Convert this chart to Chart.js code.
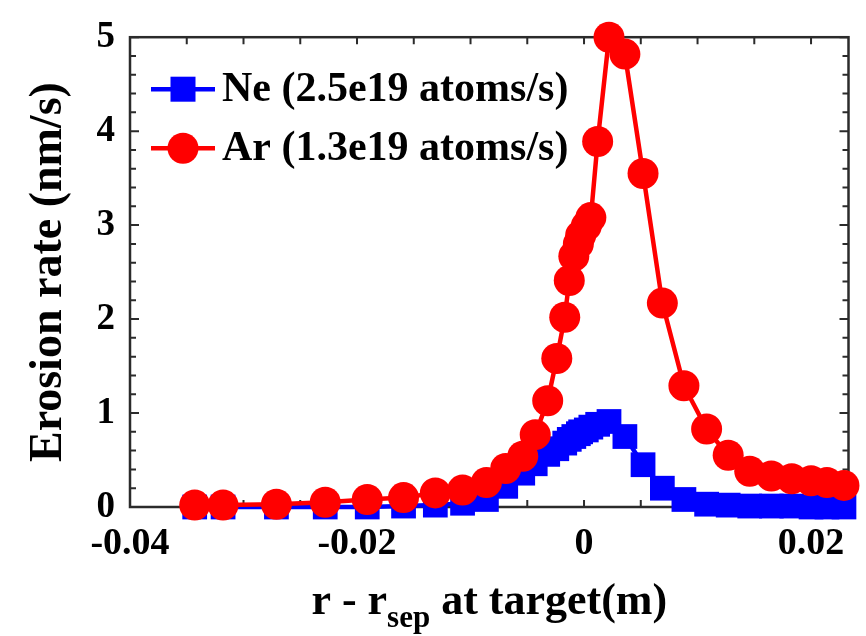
<!DOCTYPE html>
<html>
<head>
<meta charset="utf-8">
<script src="https://cdn.jsdelivr.net/npm/chart.js@4.4.1/dist/chart.umd.min.js"></script>
<style>
  html, body { margin: 0; padding: 0; background: #fff; }
  #wrap { width: 866px; height: 636px; }
</style>
</head>
<body>
<div id="wrap"><canvas id="erosion" width="866" height="636"></canvas></div>
<script>
// r - r_sep at target (m), same grid for both runs
let rSep = [
  -0.0343, -0.0318, -0.0271, -0.0228, -0.0191, -0.0159, -0.0131, -0.0107,
  -0.0086, -0.0069, -0.0054, -0.0043, -0.0032, -0.0024, -0.0017, -0.0013,
  -0.0009, -0.0005, -0.0003, 0.0002, 0.0006, 0.0012, 0.0022, 0.0036,
  0.0052, 0.0069, 0.0088, 0.0108, 0.0127, 0.0146, 0.0165, 0.0183,
  0.02, 0.0214, 0.0229,
];
// erosion rate (nm/s)
let neRate = [
  0.0, 0.0, 0.0, 0.0, 0.0, 0.01, 0.02, 0.04,
  0.08, 0.22, 0.36, 0.46, 0.56, 0.62, 0.68, 0.72,
  0.75, 0.78, 0.8, 0.82, 0.85, 0.88, 0.91, 0.75,
  0.45, 0.2, 0.08, 0.03, 0.02, 0.01, 0.01, 0.01,
  0.0, 0.0, 0.0,
];
let arRate = [
  0.02, 0.02, 0.03, 0.05, 0.08, 0.1, 0.15, 0.18,
  0.26, 0.41, 0.54, 0.77, 1.13, 1.58, 2.02, 2.41,
  2.67, 2.8, 2.89, 2.99, 3.08, 3.89, 5.0, 4.82,
  3.55, 2.17, 1.29, 0.83, 0.55, 0.38, 0.33, 0.3,
  0.28, 0.26, 0.23,
];
let seriesNames = ["Ne (2.5e19 atoms/s)", "Ar (1.3e19 atoms/s)"];
let xTickLabels = [-0.04, -0.02, 0, 0.02];
let yTickLabels = [0, 1, 2, 3, 4, 5];

const serif = '"Liberation Serif", "Times New Roman", serif';
Chart.defaults.font.family = serif;
Chart.defaults.font.weight = "bold";
Chart.defaults.color = "#000";

let toPoints = (ys) => ys.map((y, i) => ({ x: rSep[i], y: y }));

// box + inward ticks, like the matlab axes
let axesBox = {
  id: "axesBox",
  beforeDatasetsDraw(chart) {
    const { ctx, chartArea: a, scales } = chart;
    ctx.save();
    ctx.strokeStyle = "#2b2b2b";
    ctx.lineWidth = 2;
    scales.x.ticks.forEach((t) => {
      let px = scales.x.getPixelForValue(t.value);
      ctx.beginPath();
      ctx.moveTo(px, a.bottom);
      ctx.lineTo(px, a.bottom - 7);
      ctx.moveTo(px, a.top);
      ctx.lineTo(px, a.top + 7);
      ctx.stroke();
    });
    scales.y.ticks.forEach((t) => {
      let py = scales.y.getPixelForValue(t.value);
      let len = yTickLabels.includes(Math.round(t.value * 10) / 10) ? 9 : 6;
      ctx.beginPath();
      ctx.moveTo(a.left, py);
      ctx.lineTo(a.left + len, py);
      ctx.moveTo(a.right, py);
      ctx.lineTo(a.right - len, py);
      ctx.stroke();
    });
    ctx.lineWidth = 2.5;
    ctx.strokeRect(a.left, a.top, a.right - a.left, a.bottom - a.top);
    ctx.restore();
  },
};

// legend with line + marker, and the x title with its subscript
let extras = {
  id: "extras",
  afterDraw(chart) {
    const { ctx, chartArea: a } = chart;
    ctx.save();
    chart.data.datasets.forEach((ds, i) => {
      let y = a.top + 52 + i * 59;
      let x0 = a.left + 21;
      ctx.strokeStyle = ds.borderColor;
      ctx.lineWidth = 4.5;
      ctx.beginPath();
      ctx.moveTo(x0, y);
      ctx.lineTo(x0 + 64, y);
      ctx.stroke();
      ctx.fillStyle = ds.backgroundColor;
      if (ds.pointStyle === "circle") {
        ctx.beginPath();
        ctx.arc(x0 + 32, y, 15.5, 0, Math.PI * 2);
        ctx.fill();
      } else {
        ctx.fillRect(x0 + 32 - 12.5, y - 12.5, 25, 25);
      }
      ctx.fillStyle = "#000";
      ctx.font = "bold 42px " + serif;
      ctx.textBaseline = "middle";
      ctx.textAlign = "left";
      ctx.fillText(ds.label, x0 + 71, y + 1);
    });

    let main1 = "r - r", sub = "sep", main2 = " at target(m)";
    let bigFont = "bold 44px " + serif, smallFont = "bold 31px " + serif;
    ctx.font = bigFont;
    let w1 = ctx.measureText(main1).width, w3 = ctx.measureText(main2).width;
    ctx.font = smallFont;
    let w2 = ctx.measureText(sub).width;
    let x = (a.left + a.right) / 2 - (w1 + w2 + w3) / 2;
    ctx.textBaseline = "alphabetic";
    ctx.textAlign = "left";
    ctx.font = bigFont;
    ctx.fillText(main1, x, 614);
    ctx.font = smallFont;
    ctx.fillText(sub, x + w1, 627);
    ctx.font = bigFont;
    ctx.fillText(main2, x + w1 + w2, 614);
    ctx.restore();
  },
};

let erosionChart = new Chart(document.getElementById("erosion"), {
  type: "line",
  data: {
    datasets: [
      {
        label: seriesNames[0],
        data: toPoints(neRate),
        borderColor: "#0000ff",
        backgroundColor: "#0000ff",
        borderWidth: 4.5,
        pointStyle: "rect",
        pointRadius: 17.5,
        pointBorderWidth: 0,
        pointHoverRadius: 17.5,
        tension: 0,
        clip: false,
        order: 1,
      },
      {
        label: seriesNames[1],
        data: toPoints(arRate),
        borderColor: "#ff0000",
        backgroundColor: "#ff0000",
        borderWidth: 4.5,
        pointStyle: "circle",
        pointRadius: 15.5,
        pointBorderWidth: 0,
        pointHoverRadius: 15.5,
        tension: 0,
        clip: false,
        order: 0,
      },
    ],
  },
  options: {
    responsive: false,
    animation: false,
    devicePixelRatio: 1,
    layout: { padding: { top: 25, right: 11, left: 0, bottom: 0 } },
    plugins: {
      legend: { display: false },
      tooltip: { enabled: false },
    },
    scales: {
      x: {
        type: "linear",
        min: -0.04,
        max: 0.0233,
        grid: { display: false, drawTicks: false },
        border: { display: false },
        ticks: {
          stepSize: 0.005,
          includeBounds: false,
          autoSkip: false,
          maxRotation: 0,
          padding: 14,
          font: { size: 38, weight: "bold" },
          callback: (v) => {
            let hit = xTickLabels.find((t) => Math.abs(t - v) < 1e-6);
            return hit === undefined ? "" : String(hit);
          },
        },
        afterFit: (scale) => {
          scale.height = 129;
        },
      },
      y: {
        min: 0,
        max: 5,
        grid: { display: false, drawTicks: false },
        border: { display: false },
        ticks: {
          stepSize: 0.2,
          autoSkip: false,
          padding: 15,
          font: { size: 37, weight: "bold" },
          callback: (v) => {
            let hit = yTickLabels.find((t) => Math.abs(t - v) < 1e-6);
            return hit === undefined ? "" : String(hit);
          },
        },
        title: {
          display: true,
          text: "Erosion rate (nm/s)",
          font: { size: 46, weight: "bold" },
          padding: { top: 22, bottom: 0 },
        },
        afterFit: (scale) => {
          scale.width = 130;
        },
      },
    },
  },
  plugins: [axesBox, extras],
});
</script>
</body>
</html>
